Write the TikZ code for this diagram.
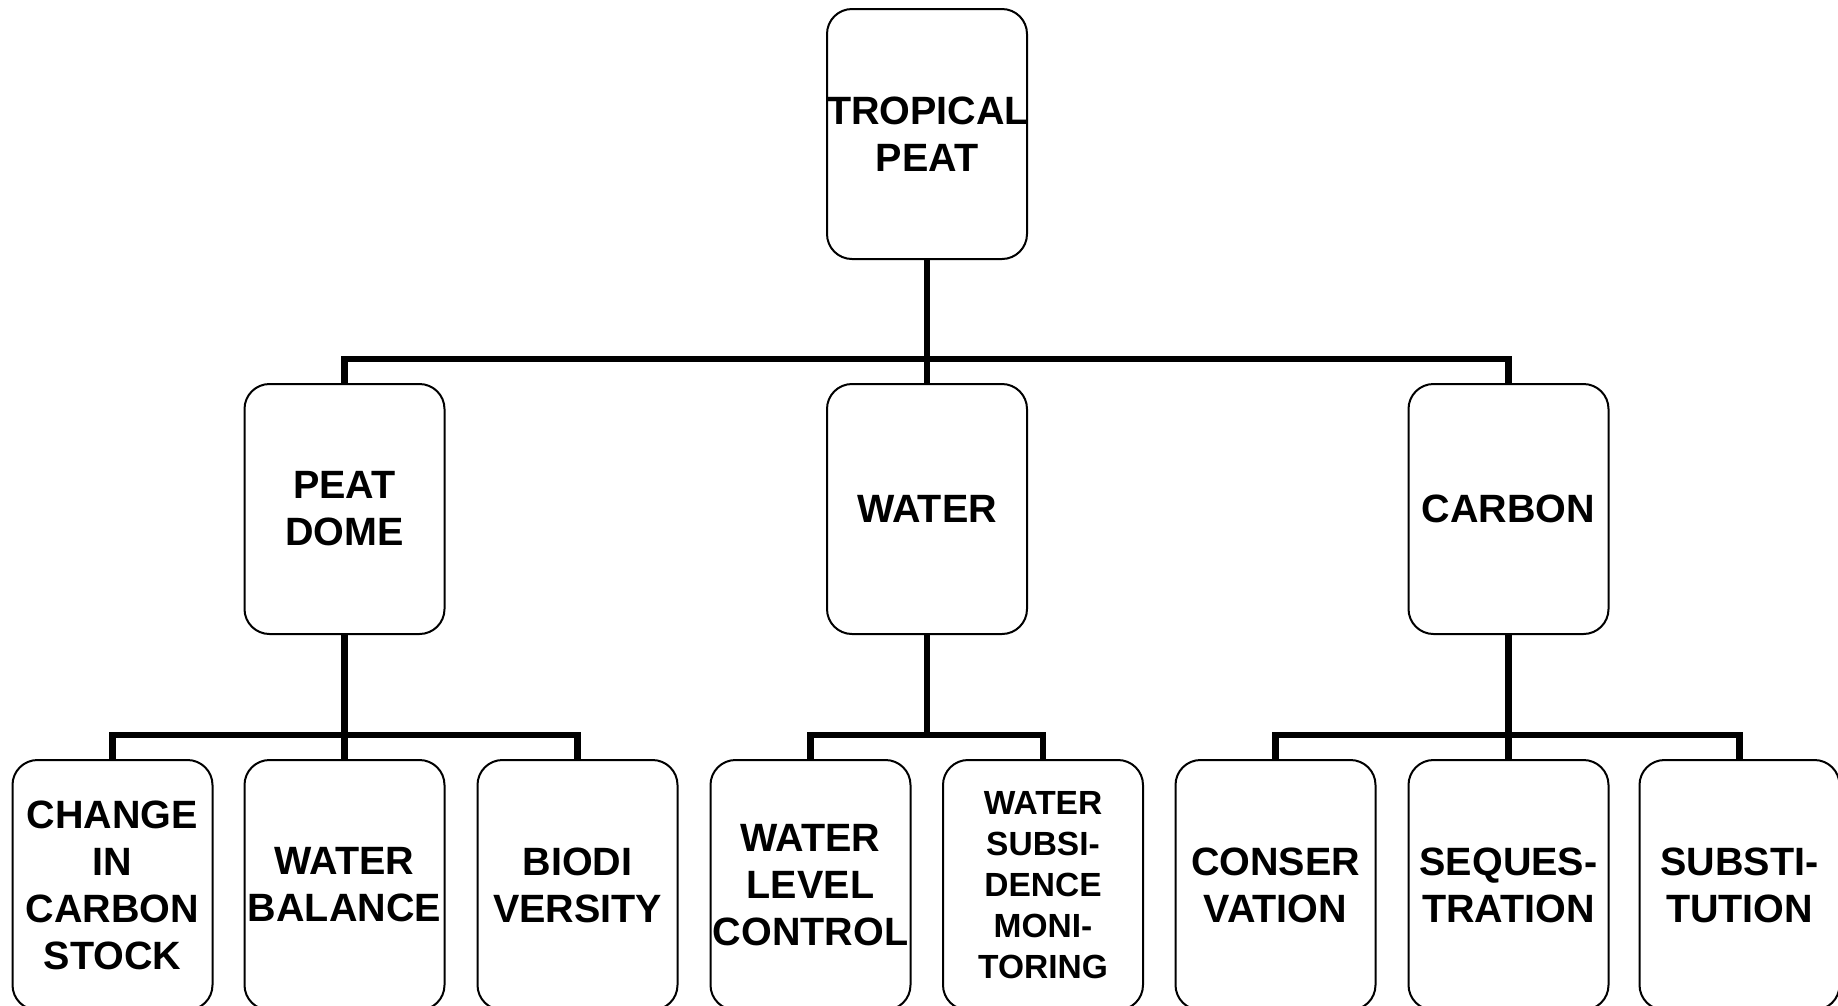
\documentclass[tikz,border=0pt]{standalone}
\usepackage{fontspec}
\setmainfont{Liberation Sans}
\begin{document}
\begin{tikzpicture}[x=1pt,y=-1pt,
  box/.style={draw, line width=2pt, rounded corners=25pt, minimum width=200pt, minimum height=250pt,
    inner sep=0pt, text width=200pt, align=center, font=\bfseries\fontsize{39.5}{47}\selectfont},
  smalltext/.style={font=\bfseries\fontsize{33.5}{41}\selectfont},
  conn/.style={line width=6.5pt}]
\useasboundingbox (0,0) rectangle (1838,1005);
% nodes
\node[box] (top) at (927,134) {TROPICAL\\PEAT};
\node[box] (peat) at (344.5,509) {PEAT\\DOME};
\node[box] (water) at (927,509) {WATER};
\node[box] (carbon) at (1508.5,509) {CARBON};
\node[box] (ccs) at (112.5,885) {CHANGE\\IN\\CARBON\\STOCK};
\node[box] (wb) at (344.5,885) {WATER\\BALANCE};
\node[box] (bio) at (577.5,885) {BIODI\\VERSITY};
\node[box] (wlc) at (810.5,885) {WATER\\LEVEL\\CONTROL};
\node[box,smalltext] (wsm) at (1043,885) {WATER\\SUBSI-\\DENCE\\MONI-\\TORING};
\node[box] (cons) at (1275.5,885) {CONSER\\VATION};
\node[box] (seq) at (1508.5,885) {SEQUES-\\TRATION};
\node[box] (subst) at (1739.5,885) {SUBSTI-\\TUTION};
% bus coordinates
\coordinate (busA) at (927,359);
\coordinate (busB) at (0,735);
% connectors
\draw[conn] (top.south) -- (water.north);
\draw[conn] (peat.north) -- (peat.north |- busA) -- (carbon.north |- busA) -- (carbon.north);
\draw[conn] (peat.south) -- (wb.north);
\draw[conn] (ccs.north) -- (ccs.north |- busB) -- (bio.north |- busB) -- (bio.north);
\draw[conn] (water.south) -- (water.south |- busB);
\draw[conn] (wlc.north) -- (wlc.north |- busB) -- (wsm.north |- busB) -- (wsm.north);
\draw[conn] (carbon.south) -- (seq.north);
\draw[conn] (cons.north) -- (cons.north |- busB) -- (subst.north |- busB) -- (subst.north);
\end{tikzpicture}
\end{document}
